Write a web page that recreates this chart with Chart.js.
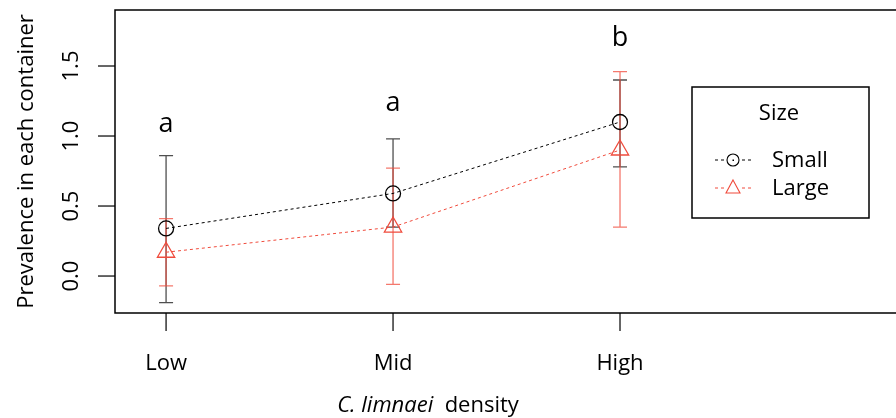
<!DOCTYPE html>
<html>
<head>
<meta charset="utf-8">
<script src="https://cdn.jsdelivr.net/npm/chart.js@4"></script>
<style>
  html, body { margin: 0; padding: 0; background: #fff; }
  #wrap { width: 896px; height: 418px; }
</style>
</head>
<body>
<div id="wrap"><canvas id="prevChart" width="896" height="418"></canvas></div>
<script>
// data
const categories = ['Low', 'Mid', 'High'];
const catPos = [1, 2, 3];
const seriesNames = ['Small', 'Large'];
const smallMean = [0.34, 0.59, 1.10];
const smallLower = [-0.19, 0.35, 0.78];
const smallUpper = [0.86, 0.98, 1.40];
const largeMean = [0.17, 0.35, 0.90];
const largeLower = [-0.07, -0.06, 0.35];
const largeUpper = [0.41, 0.77, 1.46];
const groupLetters = ['a', 'a', 'b'];
const letterY = [1.03, 1.18, 1.64];
const yTicks = [0, 0.5, 1.0, 1.5];
const yTickLabels = ['0.0', '0.5', '1.0', '1.5'];
const legendTitle = 'Size';

const FONT = '"Open Sans", "Noto Sans", sans-serif';
const RED = '#f04b3c';

const errorBars = [
    { lower: smallLower, upper: smallUpper, color: 'rgba(60,60,60,0.9)' },
    { lower: largeLower, upper: largeUpper, color: 'rgba(240,75,60,0.75)' }
];

const basePlot = {
    id: 'basePlot',
    beforeDatasetsDraw(chart) {
        const ctx = chart.ctx;
        const xs = chart.scales.x, ys = chart.scales.y;
        ctx.save();
        errorBars.forEach(eb => {
            ctx.strokeStyle = eb.color;
            ctx.lineWidth = 1.3;
            catPos.forEach((p, i) => {
                const x = xs.getPixelForValue(p);
                const y1 = ys.getPixelForValue(eb.lower[i]);
                const y2 = ys.getPixelForValue(eb.upper[i]);
                ctx.beginPath();
                ctx.moveTo(x, y1); ctx.lineTo(x, y2);
                ctx.moveTo(x - 7, y1); ctx.lineTo(x + 7, y1);
                ctx.moveTo(x - 7, y2); ctx.lineTo(x + 7, y2);
                ctx.stroke();
            });
        });
        ctx.restore();
    },
    afterDraw(chart) {
        const ctx = chart.ctx;
        const a = chart.chartArea;
        const xs = chart.scales.x, ys = chart.scales.y;
        ctx.save();
        // box (right side runs off the picture)
        ctx.strokeStyle = '#000';
        ctx.lineWidth = 1.5;
        ctx.beginPath();
        ctx.moveTo(chart.width + 5, a.top);
        ctx.lineTo(a.left, a.top);
        ctx.lineTo(a.left, a.bottom);
        ctx.lineTo(chart.width + 5, a.bottom);
        ctx.stroke();

        ctx.lineWidth = 1.2;
        ctx.fillStyle = '#000';
        // x ticks + labels
        ctx.font = '22px ' + FONT;
        ctx.textAlign = 'center';
        ctx.textBaseline = 'alphabetic';
        catPos.forEach((p, i) => {
            const x = xs.getPixelForValue(p);
            ctx.beginPath();
            ctx.moveTo(x, a.bottom); ctx.lineTo(x, a.bottom + 18);
            ctx.stroke();
            ctx.fillText(categories[i], x, 370);
        });
        // y ticks + rotated labels
        yTicks.forEach((v, i) => {
            const y = ys.getPixelForValue(v);
            ctx.beginPath();
            ctx.moveTo(a.left, y); ctx.lineTo(a.left - 17, y);
            ctx.stroke();
            ctx.save();
            ctx.translate(78, y);
            ctx.rotate(-Math.PI / 2);
            ctx.fillText(yTickLabels[i], 0, 0);
            ctx.restore();
        });
        // y title
        ctx.save();
        ctx.translate(33, (a.top + a.bottom) / 2);
        ctx.rotate(-Math.PI / 2);
        ctx.font = '22px ' + FONT;
        ctx.fillText('Prevalence in each container', 0, 0);
        ctx.restore();
        // x title: italic species name + density
        ctx.font = 'italic 22px ' + FONT;
        const t1 = 'C. limnaei';
        const w1 = ctx.measureText(t1).width;
        ctx.font = '22px ' + FONT;
        const t2 = '  density';
        const w2 = ctx.measureText(t2).width;
        let sx = 428 - (w1 + w2) / 2;
        ctx.textAlign = 'left';
        ctx.font = 'italic 22px ' + FONT;
        ctx.fillText(t1, sx, 412);
        ctx.font = '22px ' + FONT;
        ctx.fillText(t2, sx + w1, 412);

        // group letters
        ctx.textAlign = 'center';
        ctx.font = '27px ' + FONT;
        catPos.forEach((p, i) => {
            ctx.fillText(groupLetters[i], xs.getPixelForValue(p), ys.getPixelForValue(letterY[i]));
        });

        // legend
        ctx.lineWidth = 1.5;
        ctx.strokeRect(692, 87, 177, 131);
        ctx.font = '22px ' + FONT;
        ctx.fillText(legendTitle, 779, 120);
        ctx.textAlign = 'left';
        ctx.textBaseline = 'middle';
        chart.data.datasets.forEach((ds, i) => {
            const ly = 160 + i * 28;
            ctx.strokeStyle = ds.borderColor;
            ctx.lineWidth = 1;
            ctx.setLineDash([3, 3]);
            ctx.beginPath();
            ctx.moveTo(715, ly); ctx.lineTo(725, ly);
            ctx.moveTo(742, ly); ctx.lineTo(753, ly);
            ctx.stroke();
            ctx.setLineDash([]);
            ctx.lineWidth = 1.1;
            ctx.beginPath();
            if (ds.pointStyle === 'circle') {
                ctx.arc(733, ly, 6, 0, Math.PI * 2);
                ctx.stroke();
                ctx.fillStyle = ds.borderColor;
                ctx.fillRect(732.5, ly - 0.5, 1.5, 1.5);
            } else {
                ctx.moveTo(733, ly - 8);
                ctx.lineTo(740, ly + 5);
                ctx.lineTo(726, ly + 5);
                ctx.closePath();
                ctx.stroke();
            }
            ctx.fillStyle = '#000';
            ctx.fillText(seriesNames[i], 772, ly + 1);
        });
        ctx.restore();
    }
};

new Chart(document.getElementById('prevChart'), {
    type: 'line',
    data: {
        datasets: [
            {
                label: seriesNames[0],
                data: catPos.map((p, i) => ({ x: p, y: smallMean[i] })),
                borderColor: '#000',
                borderWidth: 1,
                borderDash: [3, 3],
                pointStyle: 'circle',
                pointRadius: 7.5,
                pointBorderWidth: 1.3,
                pointBorderColor: '#000',
                pointBackgroundColor: 'rgba(255,255,255,0)',
                fill: false
            },
            {
                label: seriesNames[1],
                data: catPos.map((p, i) => ({ x: p, y: largeMean[i] })),
                borderColor: RED,
                borderWidth: 1,
                borderDash: [3, 3],
                pointStyle: 'triangle',
                pointRadius: 10,
                pointBorderWidth: 1.3,
                pointBorderColor: RED,
                pointBackgroundColor: 'rgba(255,255,255,0)',
                fill: false
            }
        ]
    },
    options: {
        responsive: false,
        animation: false,
        layout: { autoPadding: false, padding: { left: 115, top: 10, right: 0, bottom: 105 } },
        plugins: { legend: { display: false }, tooltip: { enabled: false } },
        scales: {
            x: { type: 'linear', min: 0.775, max: 4.216, display: false },
            y: { type: 'linear', min: -0.264, max: 1.9, display: false }
        }
    },
    plugins: [basePlot]
});
</script>
</body>
</html>
